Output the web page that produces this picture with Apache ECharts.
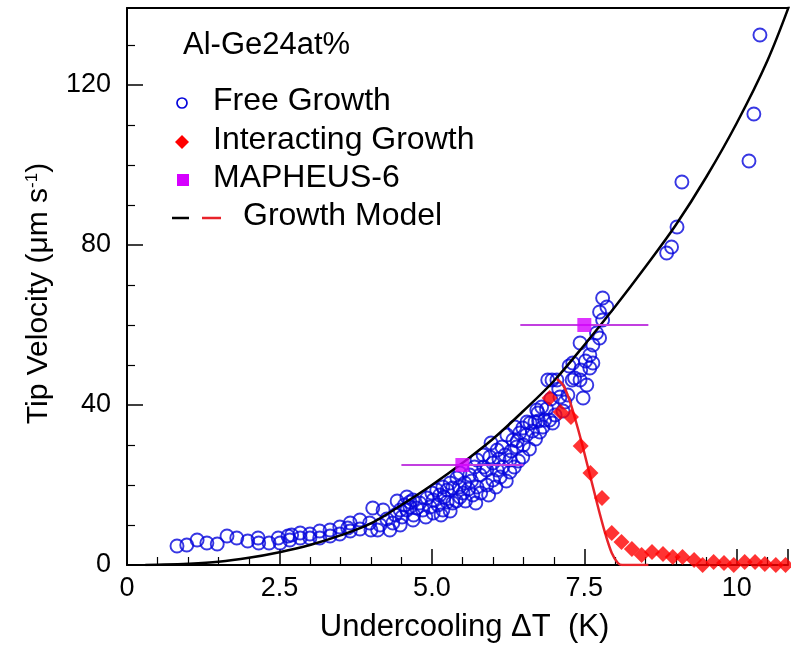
<!DOCTYPE html>
<html>
<head>
<meta charset="utf-8">
<script src="https://cdn.jsdelivr.net/npm/echarts@6/dist/echarts.min.js"></script>
<style>html,body{margin:0;padding:0;background:#fff}#c{width:791px;height:653px}</style>
</head>
<body>
<div id="c"></div>
<script>
// ---- Data ----
const fgX = [0.82,0.98,1.15,1.31,1.48,1.64,1.8,1.98,2.15,2.16,2.33,2.48,2.51,2.64,2.67,2.7,2.84,2.84,3.0,3.0,3.16,3.16,3.33,3.33,3.49,3.49,3.62,3.66,3.66,3.82,3.82,3.98,4.0,4.03,4.11,4.15,4.2,4.26,4.31,4.36,4.43,4.48,4.48,4.51,4.59,4.59,4.64,4.64,4.69,4.69,4.75,4.8,4.85,4.92,4.97,5.02,5.02,5.08,5.13,5.18,5.18,5.25,5.25,5.3,5.34,5.34,5.41,5.46,5.46,5.51,5.54,5.62,5.67,5.7,5.74,5.74,5.79,5.84,5.9,5.9,5.95,5.97,6.0,6.07,6.07,6.15,6.16,6.23,6.28,6.28,6.33,6.36,6.39,6.44,6.49,6.49,6.56,6.61,6.69,6.72,6.74,6.77,6.8,6.85,6.9,6.93,6.97,6.98,7.05,7.1,7.18,7.23,7.25,7.3,7.31,7.34,7.43,7.43,7.44,7.48,7.52,7.54,7.59,7.59,7.64,7.64,7.7,7.75,7.75,7.8,7.8,7.87,8.85,8.93,9.02,9.1,10.2,10.28,10.38,
  4.4,4.55,4.7,4.9,5.0,5.1,5.15,5.2,5.3,5.4,5.45,5.55,5.6,5.65,5.72,5.8,5.85,5.93,6.0,6.05,6.1,6.12,6.2,6.22,6.3,6.35,6.4,6.42,6.5,6.55,6.6,6.65,6.7,6.75,6.82,6.88,6.95,7.02,7.08,7.15];
const fgY = [4.75,5,6.25,5.5,5.25,7.25,6.75,6,6.75,5.5,5.5,6.75,5.5,7.25,6.25,7.5,8,6.75,7.75,6.75,8.5,6.75,8.75,7.25,9.5,7.75,9.25,10.5,8.5,11.25,9,10.5,8.75,14.25,8.75,10,13.75,11.5,8.75,10.5,16,13.75,10,12,17,13.75,15.75,14.5,11.25,16.25,14.25,15.5,13.75,16.75,14.5,16.25,13,18.75,17.5,19.5,13.75,18.75,15.75,20.5,19.25,15.5,21.75,23,17,18,20.5,22.5,17.5,24.5,26.25,19.5,22.5,27.5,23.75,20,27,30.5,21.25,28.75,23.75,29.5,24.5,32.5,26.25,23.25,31.25,34.5,29.5,33,27,34.25,35.75,35.5,35.75,38.75,38,33.25,39.5,36.25,46.25,36.25,46.25,35.5,46.25,42,40.75,42.5,49.75,46.25,50.5,46.75,55.5,46.25,48.75,41.75,51,45,52.5,49.25,55,50.5,58,56.75,63.25,61.25,66.75,64.5,78,79.5,84.5,95.75,101,112.75,132.5,
  12.5,15,12.5,12,18,15,12.5,17,13.5,16,19.5,16,19,21,15.5,18,24.5,17.5,25.5,19.5,26.5,22,27.5,21,28.5,24.5,31,26,30,32.5,29,33.5,31.5,36,34.5,39,41.5,37.5,44,38.5];

const igX = [6.93,7.11,7.28,7.44,7.6,7.79,7.95,8.11,8.28,8.44,8.61,8.79,8.95,9.11,9.3,9.44,9.62,9.79,9.95,10.13,10.3,10.46,10.64,10.8];
const igY = [41.75,38.25,37,29.75,23,16.75,8,5.75,4,2.5,3.25,2.75,2,2,1.25,0,0.75,0.5,0,0.75,0.75,0.25,0,0];

const mapX = [5.5, 7.5];
const mapY = [25, 60];
const mapXerr = [1.0, 1.05];

const gmX = [0.3,0.5,1.0,1.5,2.0,2.5,3.0,3.5,4.0,4.5,5.0,5.5,6.0,6.5,7.0,7.5,8.0,8.5,9.0,9.5,10.0,10.5,10.9];
const gmY = [0,0.05,0.3,0.8,1.8,3.2,5.0,7.4,10.4,15,20,25.5,31.5,38.5,46,55,64.5,74.5,85,97,110.5,126,141.5];

const rmX = [7.05,7.15,7.25,7.35,7.45,7.55,7.65,7.75,7.85,7.95,8.05,8.12,8.55];
const rmY = [46.5,45,41.5,36.5,31,25,19,13,7.5,3,0.5,0,0];

const xTicks = {0:'0', 2.5:'2.5', 5:'5.0', 7.5:'7.5', 10:'10'};
const yTicks = [0, 40, 80, 120];

const xName = 'Undercooling ΔT  (K)';
const titleText = 'Al-Ge24at%';
const legendNames = ['Free Growth', 'Interacting Growth', 'MAPHEUS-6', 'Growth Model'];

// ---- Chart ----
const FONT = 'Liberation Sans, Arial, sans-serif';
const zip = (a, b) => a.map((v, i) => [v, b[i]]);
const chart = echarts.init(document.getElementById('c'));

const BLUE = '#0505dc', RED = '#ff0000', MAG = '#d600ff', MAGBAR = '#c23fe0', REDLINE = '#e8232a';

const legText = 213, LFS = 32;
chart.setOption({
  animation: false,
  grid: {left: 127, right: 3, top: 8, bottom: 88},
  xAxis: [{
    type: 'value', min: 0, max: 10.84, interval: 2.5,
    axisLine: {lineStyle: {color: '#000', width: 2}},
    axisTick: {inside: true, length: 16, lineStyle: {color: '#000', width: 1.5}},
    minorTick: {show: true, splitNumber: 5, length: 8, lineStyle: {color: '#000', width: 1.2}},
    splitLine: {show: false},
    axisLabel: {color: '#000', fontSize: 27, fontFamily: FONT, margin: 10,
      formatter: v => (xTicks[v] !== undefined ? xTicks[v] : '')},
    name: xName, nameLocation: 'middle', nameGap: 47,
    nameTextStyle: {color: '#000', fontSize: 31, fontFamily: FONT, padding: [0, 0, 0, 14]}
  }, {
    type: 'value', min: 0, max: 10.84, position: 'top',
    axisLine: {show: true, onZero: false, lineStyle: {color: '#000', width: 2}},
    axisTick: {show: false}, axisLabel: {show: false}, splitLine: {show: false}
  }],
  yAxis: {
    type: 'value', min: 0, max: 139.25, interval: 40,
    axisLine: {show: true, lineStyle: {color: '#000', width: 2}},
    axisTick: {show: true, inside: true, length: 16, lineStyle: {color: '#000', width: 1.5}},
    minorTick: {show: true, splitNumber: 4, length: 8, lineStyle: {color: '#000', width: 1.2}},
    splitLine: {show: false},
    axisLabel: {color: '#000', fontSize: 27, fontFamily: FONT, margin: 16,
      formatter: v => (yTicks.indexOf(v) >= 0 ? String(v) : '')},
    name: '{a|Tip Velocity (μm s}{s|-1}{a|)}', nameLocation: 'middle', nameGap: 70,
    nameTextStyle: {color: '#000', fontFamily: FONT, padding: [0, 14, 0, 0],
      rich: {a: {fontSize: 30, fontFamily: FONT, color: '#000', lineHeight: 36},
             s: {fontSize: 17, fontFamily: FONT, color: '#000', lineHeight: 36, padding: [0, 0, 14, 0]}}}
  },
  series: [
    {type: 'scatter', name: legendNames[0], data: zip(fgX, fgY), symbol: 'circle', symbolSize: 13,
      itemStyle: {color: 'rgba(0,0,0,0)', borderColor: BLUE, borderWidth: 1.9}, z: 2},
    {type: 'line', name: legendNames[3], data: zip(gmX, gmY), smooth: 0.35, showSymbol: false,
      lineStyle: {color: '#000', width: 2.5}, clip: true, z: 3},
    {type: 'line', name: legendNames[3] + ' (interacting)', data: zip(rmX, rmY), smooth: 0.3, showSymbol: false,
      lineStyle: {color: REDLINE, width: 2.5}, z: 4},
    {type: 'scatter', name: legendNames[1], data: zip(igX, igY), symbol: 'path://M0,-1L1,0L0,1L-1,0Z', symbolSize: 16,
      itemStyle: {color: RED}, z: 5},
    {type: 'custom', name: legendNames[2] + ' error', data: mapX.map((v, i) => [v, mapY[i], mapXerr[i]]),
      renderItem: (params, api) => {
        const y = api.value(1);
        const p1 = api.coord([api.value(0) - api.value(2), y]);
        const p2 = api.coord([api.value(0) + api.value(2), y]);
        return {type: 'line', shape: {x1: p1[0], y1: p1[1], x2: p2[0], y2: p2[1]}, style: {stroke: MAGBAR, lineWidth: 2}};
      }, z: 6},
    {type: 'scatter', name: legendNames[2], data: zip(mapX, mapY), symbol: 'rect', symbolSize: 14,
      itemStyle: {color: MAG}, z: 7}
  ],
  graphic: [
    {type: 'text', left: 183, top: 30, style: {text: titleText, fontSize: 31, fontFamily: FONT, fill: '#000'}},
    {type: 'circle', shape: {cx: 182, cy: 103, r: 5}, style: {fill: 'none', stroke: BLUE, lineWidth: 1.7}},
    {type: 'text', left: legText, top: 85, style: {text: legendNames[0], fontSize: LFS, fontFamily: FONT, fill: '#000'}},
    {type: 'polygon', shape: {points: [[182, 135], [189, 142], [182, 149], [175, 142]]}, style: {fill: RED}},
    {type: 'text', left: legText, top: 124, style: {text: legendNames[1], fontSize: LFS, fontFamily: FONT, fill: '#000'}},
    {type: 'rect', shape: {x: 177, y: 174, width: 12, height: 12}, style: {fill: MAG}},
    {type: 'text', left: legText, top: 162, style: {text: legendNames[2], fontSize: LFS, fontFamily: FONT, fill: '#000'}},
    {type: 'line', shape: {x1: 172, y1: 218, x2: 189, y2: 218}, style: {stroke: '#000', lineWidth: 2.5}},
    {type: 'line', shape: {x1: 202, y1: 218, x2: 221, y2: 218}, style: {stroke: REDLINE, lineWidth: 2.5}},
    {type: 'text', left: 243, top: 200, style: {text: legendNames[3], fontSize: LFS, fontFamily: FONT, fill: '#000'}}
  ]
});
</script>
</body>
</html>
